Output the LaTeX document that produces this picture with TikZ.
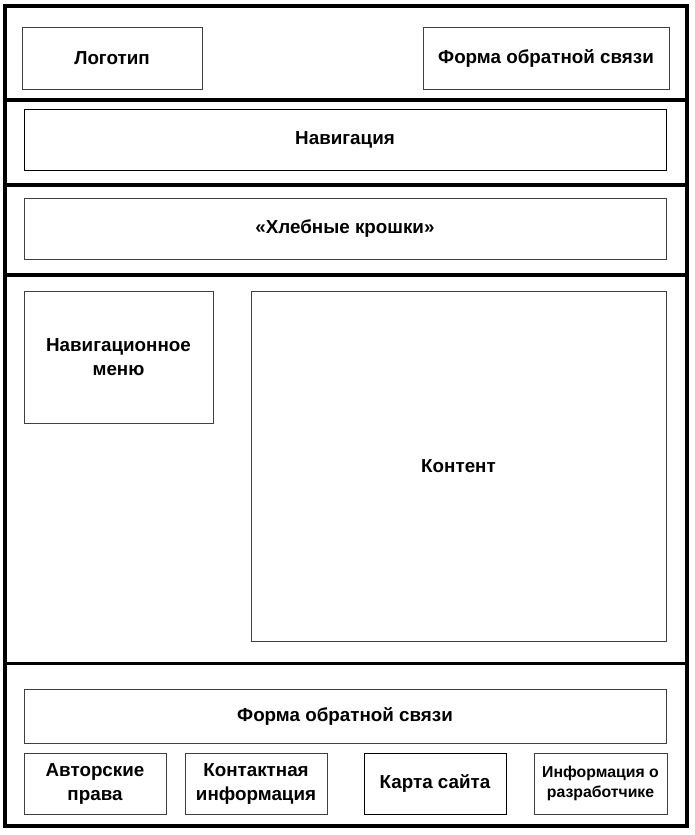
\documentclass[tikz,border=0pt]{standalone}
\usepackage{fontspec}
\setmainfont{Liberation Sans}
\begin{document}
\begin{tikzpicture}[x=1pt,y=-1pt,
  box/.style={draw=black!75, line width=1pt, inner sep=0pt, align=center,
    font=\bfseries\fontsize{18.8}{24}\selectfont},
  smallbox/.style={box, font=\bfseries\fontsize{15.8}{20}\selectfont},
  frame/.style={line width=3.5pt, draw=black}]
\useasboundingbox (0,0) rectangle (695,835);
\fill[white] (0,0) rectangle (695,835);
% outer frame and dividers
\draw[frame] (5,6) rectangle (687,826);
\coordinate (d1l) at (5,100);   \coordinate (d1r) at (687,100);
\coordinate (d2l) at (5,185);   \coordinate (d2r) at (687,185);
\coordinate (d3l) at (5,275);   \coordinate (d3r) at (687,275);
\coordinate (d4l) at (5,663.5); \coordinate (d4r) at (687,663.5);
\draw[frame] (d1l) -- (d1r);
\draw[frame] (d2l) -- (d2r);
\draw[frame] (d3l) -- (d3r);
\draw[frame] (d4l) -- (d4r);
% header
\node[box, minimum width=180pt, minimum height=62pt] (logo) at (112,58) {Логотип};
\node[box, minimum width=246pt, minimum height=62pt] (formtop) at (546,58) {Форма обратной связи};
% navigation
\node[box, draw=black, minimum width=642pt, minimum height=61pt] (nav) at (345,139.5) {Навигация};
% breadcrumbs
\node[box, minimum width=642pt, minimum height=61pt] (crumbs) at (345,228.5) {«Хлебные крошки»};
% body
\node[box, minimum width=189pt, minimum height=132pt] (navmenu) at (118.5,357) {Навигационное\\меню};
\node[box, minimum width=415pt, minimum height=350pt] (content) at (458.5,466) {Контент};
% footer
\node[box, minimum width=642pt, minimum height=54pt] (formbot) at (345,716) {Форма обратной связи};
\node[box, minimum width=142pt, minimum height=61pt] (copy) at (95,783.5) {Авторские\\права};
\node[box, minimum width=142pt, minimum height=61pt] (contact) at (256,783.5) {Контактная\\информация};
\node[box, draw=black, minimum width=142pt, minimum height=61pt] (sitemap) at (435,783.5) {Карта сайта};
\node[smallbox, minimum width=133pt, minimum height=61pt] (dev) at (600.5,783.5) {Информация о\\разработчике};
\end{tikzpicture}
\end{document}
